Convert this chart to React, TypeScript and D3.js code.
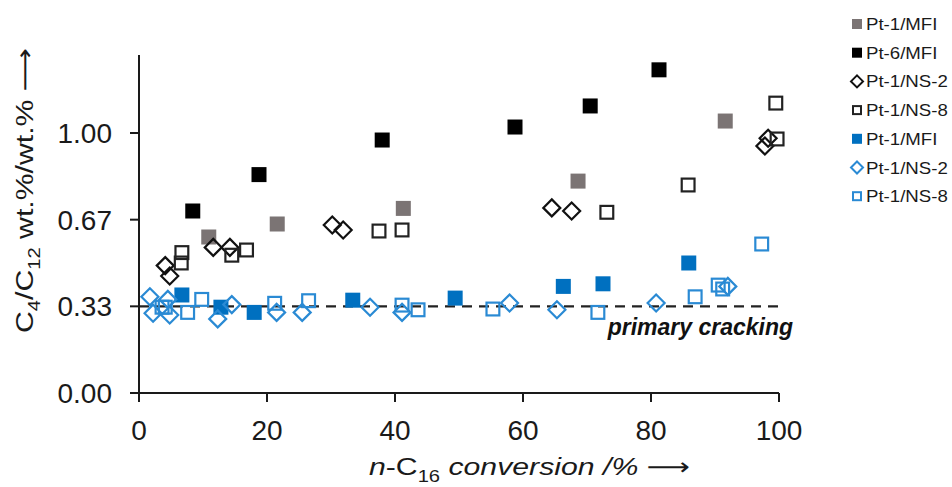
import React from "react";
import * as d3 from "d3";

type Pt = [number, number];

const xTicks = [0, 20, 40, 60, 80, 100];
const yTicks = [0, 1 / 3, 2 / 3, 1];
const yTickLabels = ["0.00", "0.33", "0.67", "1.00"];

const seriesNames = ["Pt-1/MFI", "Pt-6/MFI", "Pt-1/NS-2", "Pt-1/NS-8", "Pt-1/MFI", "Pt-1/NS-2", "Pt-1/NS-8"];

const pt1MfiGray: Pt[] = [[10.9, 0.6], [21.6, 0.65], [41.3, 0.71], [68.6, 0.815], [91.6, 1.046]];
const pt6Mfi: Pt[] = [[8.4, 0.7], [18.75, 0.84], [38.0, 0.973], [58.75, 1.023], [70.5, 1.104], [81.25, 1.243]];
const pt1Ns2Black: Pt[] = [[4.1, 0.49], [4.8, 0.45], [11.6, 0.56], [14.2, 0.56], [30.2, 0.646], [31.9, 0.627], [64.5, 0.712], [67.6, 0.7], [98.3, 0.98], [97.8, 0.95]];
const pt1Ns8Black: Pt[] = [[6.7, 0.54], [6.6, 0.5], [14.5, 0.53], [16.8, 0.55], [37.5, 0.623], [41.1, 0.627], [73.1, 0.695], [85.8, 0.8], [99.7, 0.977], [99.5, 1.115]];
const pt1MfiBlue: Pt[] = [[6.7, 0.377], [12.8, 0.33], [18.0, 0.31], [33.4, 0.357], [49.4, 0.365], [66.3, 0.41], [72.5, 0.42], [85.9, 0.5]];
const pt1Ns2Blue: Pt[] = [[1.7, 0.37], [2.2, 0.307], [4.5, 0.36], [4.8, 0.3], [12.3, 0.285], [14.5, 0.34], [21.5, 0.31], [25.5, 0.31], [36.1, 0.33], [41.1, 0.31], [57.9, 0.346], [65.3, 0.32], [80.8, 0.346], [92.0, 0.41]];
const pt1Ns8Blue: Pt[] = [[3.6, 0.33], [4.1, 0.33], [7.6, 0.31], [9.8, 0.36], [21.2, 0.345], [26.5, 0.355], [41.1, 0.338], [43.6, 0.32], [55.3, 0.323], [71.7, 0.31], [86.9, 0.37], [90.5, 0.415], [91.2, 0.4], [97.3, 0.573]];

const primaryLevel = 1 / 3;

const GRAY = "#7b7474";
const BLACK = "#000000";
const BLUE_F = "#0070c0";
const BLUE_O = "#2a8ad4";

type Style = { shape: "square" | "diamond"; fill: string; stroke: string };
const styles: Style[] = [
  { shape: "square", fill: GRAY, stroke: GRAY },
  { shape: "square", fill: BLACK, stroke: BLACK },
  { shape: "diamond", fill: "#fff", stroke: "#111" },
  { shape: "square", fill: "#fff", stroke: "#222" },
  { shape: "square", fill: BLUE_F, stroke: BLUE_F },
  { shape: "diamond", fill: "#fff", stroke: BLUE_O },
  { shape: "square", fill: "#fff", stroke: BLUE_O },
];
const allData: Pt[][] = [pt1MfiGray, pt6Mfi, pt1Ns2Black, pt1Ns8Black, pt1MfiBlue, pt1Ns2Blue, pt1Ns8Blue];

function Marker({ cx, cy, st, size, sw = 2.2 }: { cx: number; cy: number; st: Style; size: number; sw?: number }) {
  const filled = st.fill !== "#fff";
  if (st.shape === "square") {
    const s = filled ? size : size - sw;
    return <rect x={cx - s / 2} y={cy - s / 2} width={s} height={s} fill={filled ? st.fill : "none"} stroke={filled ? "none" : st.stroke} strokeWidth={filled ? 0 : sw} />;
  }
  const r = size / 2 + 1;
  const d = `M${cx},${cy - r}L${cx + r},${cy}L${cx},${cy + r}L${cx - r},${cy}Z`;
  return <path d={d} fill="none" stroke={st.stroke} strokeWidth={sw} />;
}

export default function App() {
  const W = 952, H = 487;
  const x = d3.scaleLinear().domain([0, 100]).range([139, 779]);
  const y = d3.scaleLinear().domain([0, 1.3]).range([393, 55]);
  const font = "'Liberation Sans', Arial, sans-serif";
  const ink = "#1a1a1a";

  return (
    <svg width={W} height={H} style={{ position: "absolute", left: 0, top: 0, background: "#fff" }} fontFamily={font}>
      {/* primary cracking line */}
      <line x1={x(0)} x2={x(100)} y1={y(primaryLevel)} y2={y(primaryLevel)} stroke="#222" strokeWidth={2.2} strokeDasharray="10,7" />
      <text x={793} y={335} textAnchor="end" fontSize={23} fontWeight="bold" fontStyle="italic" fill="#111">primary cracking</text>

      {/* markers */}
      {allData.map((data, si) =>
        data.map((p, i) => <Marker key={`${si}-${i}`} cx={x(p[0])} cy={y(p[1])} st={styles[si]} size={15} />)
      )}

      {/* axes */}
      <line x1={x(0)} x2={x(0)} y1={y(0)} y2={y(1.3)} stroke={ink} strokeWidth={2} />
      <line x1={x(0)} x2={x(100)} y1={y(0)} y2={y(0)} stroke={ink} strokeWidth={2} />
      {yTicks.map((t, i) => (
        <g key={`y${i}`}>
          <line x1={x(0) - 9} x2={x(0)} y1={y(t)} y2={y(t)} stroke={ink} strokeWidth={2} />
          <text x={112} y={y(t) + 10} textAnchor="end" fontSize={28} fill={ink}>{yTickLabels[i]}</text>
        </g>
      ))}
      {xTicks.map((t, i) => (
        <g key={`x${i}`}>
          <line x1={x(t)} x2={x(t)} y1={y(0)} y2={y(0) + 9} stroke={ink} strokeWidth={2} />
          <text x={x(t)} y={440} textAnchor="middle" fontSize={28} fill={ink}>{t}</text>
        </g>
      ))}

      {/* axis titles */}
      <g transform="translate(690,475) scale(1.26,1)">
        <text x={0} y={0} textAnchor="end" fontSize={24} fill={ink}>
          <tspan fontStyle="italic">n</tspan>
          <tspan>-C</tspan>
          <tspan fontSize={16} dy={7}>16</tspan>
          <tspan dy={-7} fontStyle="italic"> conversion /% </tspan>
          <tspan fontFamily="'DejaVu Sans'">⟶</tspan>
        </text>
      </g>
      <g transform="translate(33,333) rotate(-90) scale(1.26,1)">
        <text x={0} y={0} textAnchor="start" fontSize={24} fill={ink}>
          <tspan>C</tspan>
          <tspan fontSize={16} dy={7}>4</tspan>
          <tspan dy={-7}>/C</tspan>
          <tspan fontSize={16} dy={7}>12</tspan>
          <tspan dy={-7}> wt.%/wt.% </tspan>
          <tspan fontFamily="'DejaVu Sans'">⟶</tspan>
        </text>
      </g>

      {/* legend */}
      {seriesNames.map((n, i) => {
        const cy = 24 + i * 28.7;
        return (
          <g key={`l${i}`}>
            <Marker cx={857} cy={cy} st={styles[i]} size={10} sw={2} />
            <g transform={`translate(866,${cy + 6}) scale(1.13,1)`}>
              <text x={0} y={0} fontSize={16.5} fill={ink}>{n}</text>
            </g>
          </g>
        );
      })}
    </svg>
  );
}
